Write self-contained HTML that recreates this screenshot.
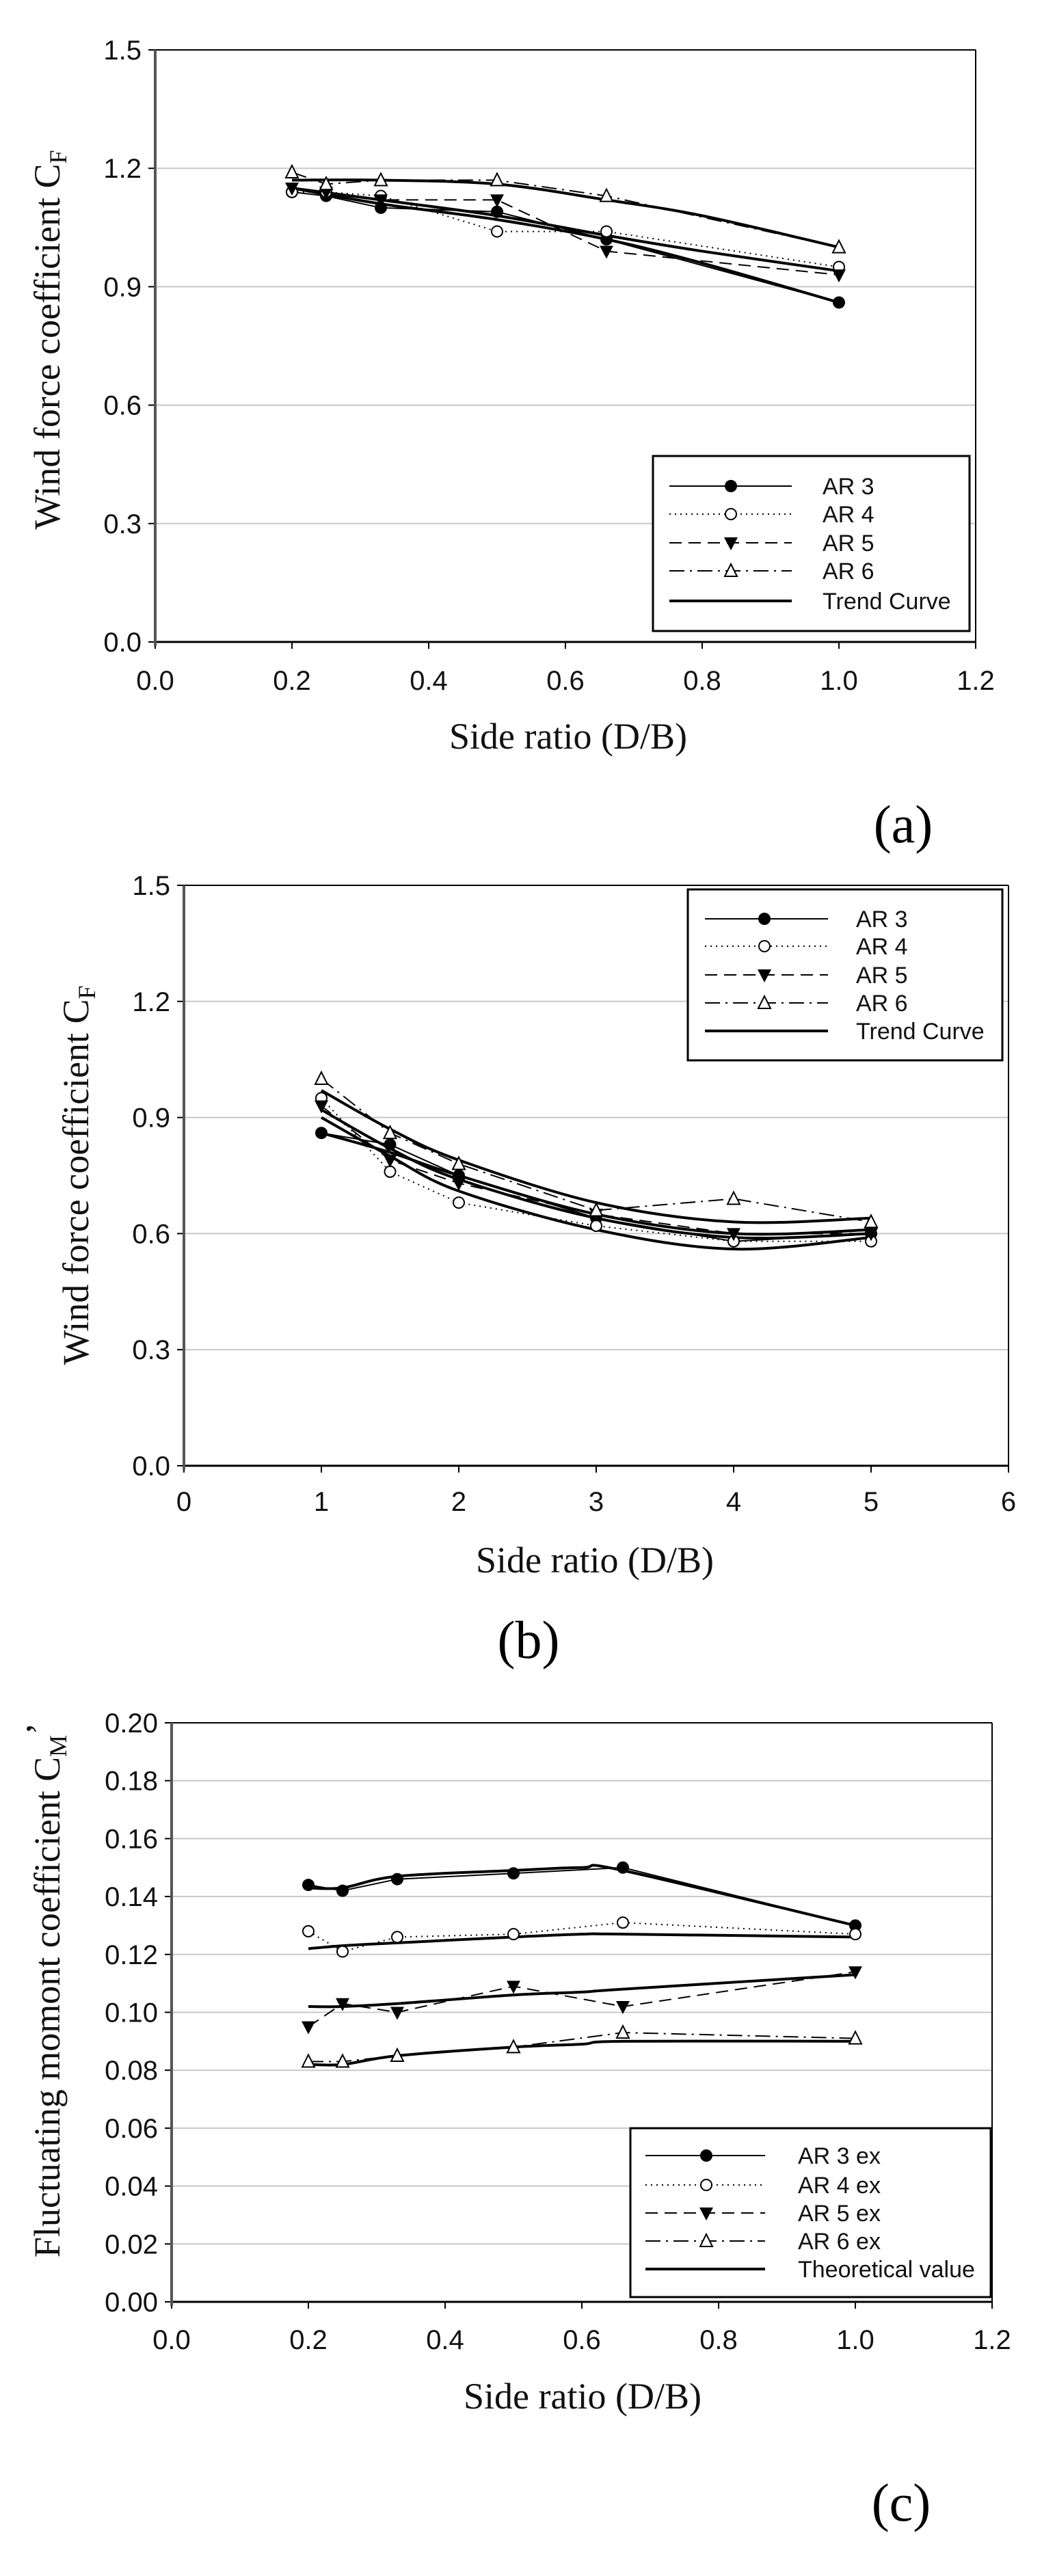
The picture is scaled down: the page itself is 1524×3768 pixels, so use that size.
<!DOCTYPE html>
<html><head><meta charset="utf-8"><style>
html,body{margin:0;padding:0;background:#fff;}
body{width:1524px;height:3768px;overflow:hidden;}
svg{display:block;}
</style></head><body>
<svg id="fig" width="1524" height="3768" viewBox="0 0 1524 3768" xmlns="http://www.w3.org/2000/svg"></svg>
<script>
// ---------- Panel (a) data ----------
const aX = [0.2, 0.25, 0.33, 0.5, 0.66, 1.0];
const aAR3 = [1.14, 1.13, 1.10, 1.09, 1.02, 0.86];
const aAR4 = [1.14, 1.14, 1.13, 1.04, 1.04, 0.95];
const aAR5 = [1.15, 1.14, 1.12, 1.12, 0.99, 0.93];
const aAR6 = [1.19, 1.16, 1.17, 1.17, 1.13, 1.00];
const aTrendX = [0.2, 0.33, 0.5, 0.66, 0.8, 1.0];
const aTrend1 = [1.17, 1.17, 1.16, 1.12, 1.08, 1.00];
const aTrend2 = [1.15, 1.11, 1.07, 1.02, 0.96, 0.86];
const aTrend3 = [1.15, 1.12, 1.08, 1.03, 0.99, 0.94];
const aXTicks = ["0.0","0.2","0.4","0.6","0.8","1.0","1.2"];
const aYTicks = ["0.0","0.3","0.6","0.9","1.2","1.5"];
// ---------- Panel (b) data ----------
const bX = [1, 1.5, 2, 3, 4, 5];
const bAR3 = [0.86, 0.83, 0.75, 0.64, 0.58, 0.60];
const bAR4 = [0.95, 0.76, 0.68, 0.62, 0.58, 0.58];
const bAR5 = [0.93, 0.79, 0.73, 0.65, 0.60, 0.60];
const bAR6 = [1.00, 0.86, 0.78, 0.66, 0.69, 0.63];
const bTrendX = [1, 1.5, 2, 3, 4, 5];
const bTrend1 = [0.97, 0.87, 0.79, 0.68, 0.63, 0.64];
const bTrend2 = [0.92, 0.82, 0.74, 0.64, 0.59, 0.60];
const bTrend3 = [0.90, 0.80, 0.71, 0.61, 0.56, 0.59];
const bTrend4 = [0.86, 0.81, 0.75, 0.65, 0.60, 0.61];
const bXTicks = ["0","1","2","3","4","5","6"];
const bYTicks = ["0.0","0.3","0.6","0.9","1.2","1.5"];
// ---------- Panel (c) data ----------
const cX = [0.2, 0.25, 0.33, 0.5, 0.66, 1.0];
const cAR3 = [0.144, 0.142, 0.146, 0.148, 0.150, 0.130];
const cAR4 = [0.128, 0.121, 0.126, 0.127, 0.131, 0.127];
const cAR5 = [0.095, 0.103, 0.100, 0.109, 0.102, 0.114];
const cAR6 = [0.083, 0.083, 0.085, 0.088, 0.093, 0.091];
const cTheoX = [0.2, 0.25, 0.33, 0.5, 0.6, 0.66, 1.0];
const cTheo3 = [0.143, 0.143, 0.147, 0.149, 0.150, 0.149, 0.130];
const cTheo4 = [0.122, 0.123, 0.124, 0.126, 0.127, 0.127, 0.126];
const cTheo5 = [0.102, 0.102, 0.103, 0.106, 0.107, 0.108, 0.113];
const cTheo6 = [0.082, 0.082, 0.085, 0.088, 0.089, 0.090, 0.090];
const cXTicks = ["0.0","0.2","0.4","0.6","0.8","1.0","1.2"];
const cYTicks = ["0.00","0.02","0.04","0.06","0.08","0.10","0.12","0.14","0.16","0.18","0.20"];

const NS = "http://www.w3.org/2000/svg";
const fig = document.getElementById('fig');
function mk(tag, attrs, parent) {
  const e = document.createElementNS(NS, tag);
  for (const k in attrs) e.setAttribute(k, attrs[k]);
  (parent || fig).appendChild(e);
  return e;
}
const DASH = {solid: null, dot: "2 6", dash: "18 10", dashdot: "22 8 3 8"};

function marker(g, type, x, y) {
  let m;
  if (type === 'fcircle') m = mk('circle', {cx:x, cy:y, r:9, fill:'#000'}, g);
  else if (type === 'ocircle') m = mk('circle', {cx:x, cy:y, r:8, fill:'#fff', stroke:'#000', 'stroke-width':2}, g);
  else if (type === 'dtri') m = mk('polygon', {points:`${x-10},${y-8} ${x+10},${y-8} ${x},${y+11}`, fill:'#000'}, g);
  else m = mk('polygon', {points:`${x-9},${y+8} ${x+9},${y+8} ${x},${y-10}`, fill:'#fff', stroke:'#000', 'stroke-width':2}, g);
  
  
}

function smoothPath(pts) {
  let d = `M${pts[0][0]},${pts[0][1]}`;
  for (let i = 0; i < pts.length - 1; i++) {
    const p0 = pts[Math.max(i-1,0)], p1 = pts[i], p2 = pts[i+1], p3 = pts[Math.min(i+2, pts.length-1)];
    const c1x = p1[0] + (p2[0]-p0[0])/6, c1y = p1[1] + (p2[1]-p0[1])/6;
    const c2x = p2[0] - (p3[0]-p1[0])/6, c2y = p2[1] - (p3[1]-p1[1])/6;
    d += ` C${c1x},${c1y} ${c2x},${c2y} ${p2[0]},${p2[1]}`;
  }
  return d;
}

function panel(P) {
  const g = mk('g', {});
  
  
  const sx = v => P.x0 + (v - P.xmin) / (P.xmax - P.xmin) * (P.x1 - P.x0);
  const sy = v => P.y0 - (v - P.ymin) / (P.ymax - P.ymin) * (P.y0 - P.y1);
  // gridlines
  P.yTicks.forEach((t, i) => {
    const v = P.ymin + i * (P.ymax - P.ymin) / (P.yTicks.length - 1);
    const y = sy(v);
    if (i > 0 && i < P.yTicks.length - 1) {
      const gl = mk('line', {x1:P.x0, x2:P.x1, y1:y, y2:y, stroke:'#c8c8c8', 'stroke-width':2}, g);
      
      
    }
    mk('line', {x1:P.x0-10, x2:P.x0, y1:y, y2:y, stroke:'#000', 'stroke-width':2}, g);
    const tl = mk('text', {x:P.x0-20, y:y+14, 'text-anchor':'end', 'font-family':'Liberation Sans, sans-serif', 'font-size':40, fill:'#111'}, g);
    tl.textContent = t;
    
    
  });
  P.xTicks.forEach((t, i) => {
    const v = P.xmin + i * (P.xmax - P.xmin) / (P.xTicks.length - 1);
    const x = sx(v);
    mk('line', {x1:x, x2:x, y1:P.y0, y2:P.y0+10, stroke:'#000', 'stroke-width':2}, g);
    const tl = mk('text', {x:x, y:P.xLabY+14, 'text-anchor':'middle', 'font-family':'Liberation Sans, sans-serif', 'font-size':40, fill:'#111'}, g);
    tl.textContent = t;
    
    
  });
  // frame
  mk('line', {x1:P.x0, x2:P.x1, y1:P.y1, y2:P.y1, stroke:'#000', 'stroke-width':2}, g);
  mk('line', {x1:P.x1, x2:P.x1, y1:P.y1, y2:P.y0, stroke:'#000', 'stroke-width':2}, g);
  const xa = mk('line', {x1:P.x0, x2:P.x1, y1:P.y0, y2:P.y0, stroke:'#000', 'stroke-width':3}, g);
  
  
  const ya = mk('line', {x1:P.x0, x2:P.x0, y1:P.y1, y2:P.y0+6, stroke:'#555', 'stroke-width':4}, g);
  
  
  // trend curves
  P.trends.forEach(tr => {
    const pts = tr.map((v, i) => [sx(P.trendX[i]), sy(v)]);
    const p = mk('path', {d:smoothPath(pts), fill:'none', stroke:'#000', 'stroke-width':4}, g);
    
    
  });
  // series
  P.series.forEach(s => {
    const pts = s.v.map((v, i) => `${sx(P.dataX[i])},${sy(v)}`).join(' ');
    const attrs = {points:pts, fill:'none', stroke:'#000', 'stroke-width':2};
    if (DASH[s.style]) attrs['stroke-dasharray'] = DASH[s.style];
    const pl = mk('polyline', attrs, g);
    
    
    s.v.forEach((v, i) => marker(g, s.m, sx(P.dataX[i]), sy(v)));
  });
  // legend
  const L = P.legend;
  const lg = mk('g', {}, g);
  
  
  mk('rect', {x:L.x, y:L.y, width:L.w, height:L.h, fill:'#fff', stroke:'#000', 'stroke-width':3}, lg);
  const entries = P.series.map(s => s).concat([{label:P.trendLabel, style:'solid', m:null, thick:true}]);
  entries.forEach((s, i) => {
    const y = L.rows[i];
    const attrs = {x1:L.lx0, x2:L.lx1, y1:y, y2:y, stroke:'#000', 'stroke-width': s.thick ? 4 : 2};
    if (DASH[s.style]) attrs['stroke-dasharray'] = DASH[s.style];
    const ln = mk('line', attrs, lg);
    
    
    if (s.m) marker(lg, s.m, L.mx, y);
    const t = mk('text', {x:L.tx, y:y+12, 'font-family':'Liberation Sans, sans-serif', 'font-size':34, fill:'#111'}, lg);
    t.textContent = s.label;
    
    
  });
  // axis titles
  const xt = mk('text', {x:P.xTitle[0], y:P.xTitle[1]+18, 'text-anchor':'middle', 'font-family':'Liberation Serif, serif', 'font-size':54, fill:'#111'}, g);
  xt.textContent = 'Side ratio (D/B)';
  
  
  const yt = mk('text', {transform:`translate(${P.yTitle[0]+18},${P.yTitle[1]}) rotate(-90)`, 'text-anchor':'middle', 'font-family':'Liberation Serif, serif', 'font-size':54, fill:'#111'}, g);
  yt.innerHTML = P.yTitleHTML;
  
  
  const pl = mk('text', {x:P.tag[0], y:P.tag[1]+26, 'text-anchor':'middle', 'font-family':'Liberation Serif, serif', 'font-size':78, fill:'#000'}, g);
  pl.textContent = P.tagText;
  
  
}

panel({name:'panel-a', x0:227, x1:1427, y0:939, y1:73, xmin:0, xmax:1.2, ymin:0, ymax:1.5,
  xTicks:aXTicks, yTicks:aYTicks, xLabY:995, dataX:aX, trendX:aTrendX,
  trends:[aTrend1, aTrend2, aTrend3],
  series:[{label:'AR 3', v:aAR3, style:'solid', m:'fcircle'},{label:'AR 4', v:aAR4, style:'dot', m:'ocircle'},
          {label:'AR 5', v:aAR5, style:'dash', m:'dtri'},{label:'AR 6', v:aAR6, style:'dashdot', m:'otri'}],
  trendLabel:'Trend Curve',
  legend:{x:955, y:667, w:463, h:256, rows:[711,752,794,835,879], lx0:979, lx1:1158, mx:1069, tx:1203},
  xTitle:[831,1077], yTitle:[69,497],
  yTitleHTML:'Wind force coefficient C<tspan font-size="36" dy="10">F</tspan>',
  tag:[1321,1206], tagText:'(a)'});

panel({name:'panel-b', x0:269, x1:1475, y0:2144, y1:1295, xmin:0, xmax:6, ymin:0, ymax:1.5,
  xTicks:bXTicks, yTicks:bYTicks, xLabY:2196, dataX:bX, trendX:bTrendX,
  trends:[bTrend1, bTrend2, bTrend3, bTrend4],
  series:[{label:'AR 3', v:bAR3, style:'solid', m:'fcircle'},{label:'AR 4', v:bAR4, style:'dot', m:'ocircle'},
          {label:'AR 5', v:bAR5, style:'dash', m:'dtri'},{label:'AR 6', v:bAR6, style:'dashdot', m:'otri'}],
  trendLabel:'Trend Curve',
  legend:{x:1006, y:1301, w:460, h:250, rows:[1344,1384,1426,1467,1508], lx0:1031, lx1:1211, mx:1118, tx:1252},
  xTitle:[870,2282], yTitle:[111,1719],
  yTitleHTML:'Wind force coefficient C<tspan font-size="36" dy="10">F</tspan>',
  tag:[773,2399], tagText:'(b)'});

panel({name:'panel-c', x0:251, x1:1451, y0:3367, y1:2520, xmin:0, xmax:1.2, ymin:0, ymax:0.2,
  xTicks:cXTicks, yTicks:cYTicks, xLabY:3422, dataX:cX, trendX:cTheoX,
  trends:[cTheo3, cTheo4, cTheo5, cTheo6],
  series:[{label:'AR 3 ex', v:cAR3, style:'solid', m:'fcircle'},{label:'AR 4 ex', v:cAR4, style:'dot', m:'ocircle'},
          {label:'AR 5 ex', v:cAR5, style:'dash', m:'dtri'},{label:'AR 6 ex', v:cAR6, style:'dashdot', m:'otri'}],
  trendLabel:'Theoretical value',
  legend:{x:922, y:3113, w:527, h:247, rows:[3153,3196,3237,3278,3319], lx0:944, lx1:1119, mx:1033, tx:1167},
  xTitle:[852,3505], yTitle:[69,2911],
  yTitleHTML:'Fluctuating momont coefficient C<tspan font-size="36" dy="10">M</tspan><tspan dy="-22">\u2019</tspan>',
  tag:[1318,3661], tagText:'(c)'});
</script>
</body></html>
